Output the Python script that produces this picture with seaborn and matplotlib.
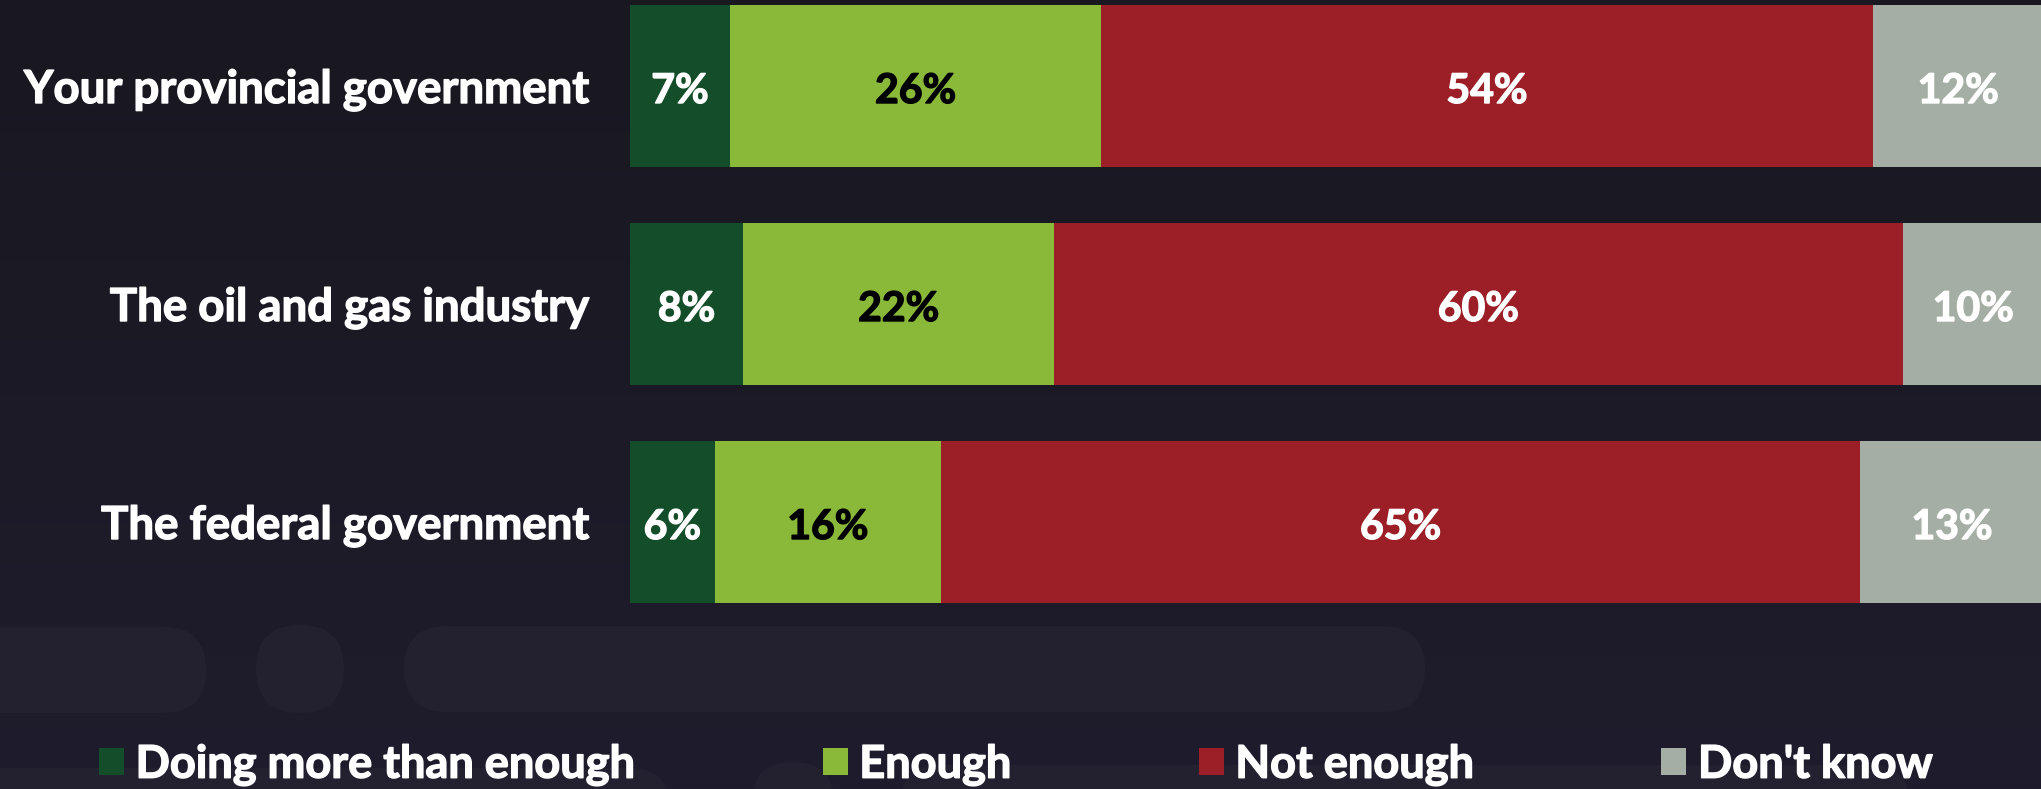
import numpy as np
import pandas as pd
import matplotlib
matplotlib.use("Agg")
import matplotlib.pyplot as plt
import seaborn as sns
from matplotlib.patches import Patch, FancyBboxPatch
from matplotlib.colors import LinearSegmentedColormap
import matplotlib.patheffects as pe

# ---- data ----
categories = ["Your provincial government", "The oil and gas industry", "The federal government"]
series_names = ["Doing more than enough", "Enough", "Not enough", "Don't know"]
more_than_enough = [7, 8, 6]
enough = [26, 22, 16]
not_enough = [54, 60, 65]
dont_know = [12, 10, 13]

colors = ["#134d29", "#8ab93a", "#9c1f27", "#a4aea4"]
label_colors = ["white", "black", "white", "white"]

sns.set_theme(style="white")
plt.rcParams["font.family"] = ["Lato", "DejaVu Sans"]

W, H = 2041, 789
fig = plt.figure(figsize=(W / 100, H / 100), dpi=100)

# ---- background ----
bg = fig.add_axes([0, 0, 1, 1], zorder=0)
bg.set_xlim(0, W)
bg.set_ylim(H, 0)
bg.axis("off")
cmap = LinearSegmentedColormap.from_list("bg", ["#19171f", "#1f1d2d"])
bg.imshow(np.linspace(0, 1, 256).reshape(-1, 1), cmap=cmap, extent=(0, W, H, 0), aspect="auto")
pill_color = "#232030"
for (x, y, w, h) in [(-100, 627, 306, 86), (256, 625, 88, 88), (404, 626, 1021, 86),
                     (-100, 768, 770, 80), (752, 762, 82, 82), (900, 765, 1010, 80)]:
    bg.add_patch(FancyBboxPatch((x, y), w, h, boxstyle=f"round,pad=0,rounding_size={h/2}",
                                facecolor=pill_color, edgecolor="none"))

# ---- main axes (100% stacked; full width ends just past the right edge) ----
left_px, right_px, bottom_px = 630, 2044, 631
ax = fig.add_axes([left_px / W, 1 - bottom_px / H, (right_px - left_px) / W, bottom_px / H], zorder=1)
ax.set_facecolor("none")

vals = np.array([more_than_enough, enough, not_enough, dont_know], dtype=float).T
share = vals / vals.sum(axis=1, keepdims=True) * 100
cum = share.cumsum(axis=1)
for k in range(3, -1, -1):
    d = pd.DataFrame({"cat": categories, "v": cum[:, k]})
    sns.barplot(data=d, x="v", y="cat", orient="h", color=colors[k], saturation=1,
                width=0.743, linewidth=0, edgecolor="none", ax=ax)

for i in range(len(categories)):
    for k in range(4):
        center = cum[i, k] - share[i, k] / 2
        ax.text(center, i + 0.078, f"{int(vals[i, k])}%", ha="center", va="baseline",
                fontsize=29.5, fontweight="bold", color=label_colors[k],
                path_effects=[pe.withStroke(linewidth=1.0, foreground=label_colors[k])])

ax.set_xlim(0, 100)
ax.set_ylim(2.5, -0.5 + 23 / 218)
ax.set_xlabel("")
ax.set_ylabel("")
ax.set_xticks([])
ax.tick_params(axis="y", length=0, pad=30, labelsize=32.8, labelcolor="white")
for lab in ax.get_yticklabels():
    lab.set_fontweight("bold")
    lab.set_path_effects([pe.withStroke(linewidth=1.0, foreground="white")])
for s in ax.spines.values():
    s.set_visible(False)

# ---- legend ----
handles = [Patch(facecolor=c, edgecolor="none", label=n) for c, n in zip(colors, series_names)]
leg = fig.legend(handles=handles, loc="center", bbox_to_anchor=(99 / W, 1 - 765 / H, 1834 / W, 0),
                 mode="expand", ncol=4, frameon=False,
                 prop={"family": ["Lato", "DejaVu Sans"], "weight": "bold", "size": 32.5},
                 labelcolor="white", handlelength=0.55, handleheight=0.55, handletextpad=0.26,
                 borderpad=0, borderaxespad=0)
for t in leg.get_texts():
    t.set_path_effects([pe.withStroke(linewidth=1.0, foreground="white")])

fig.savefig("out.png", dpi=100, facecolor="#19171f")
